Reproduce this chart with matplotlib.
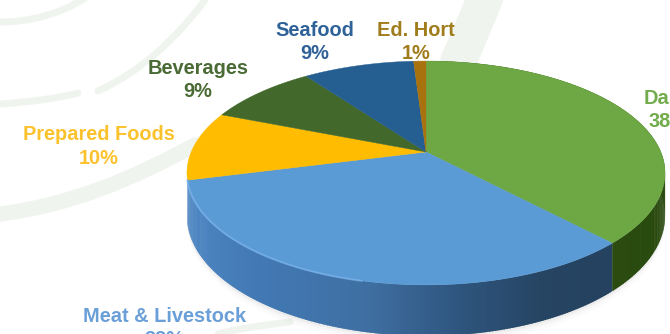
import numpy as np
import matplotlib
matplotlib.use('Agg')  # Non-interactive backend
import matplotlib.pyplot as plt
from matplotlib.collections import PolyCollection
from matplotlib.colors import to_rgb
from matplotlib.patches import PathPatch, Polygon
from matplotlib.path import Path

W, H = 670, 334

categories = ["Dairy", "Meat & Livestock", "Prepared Foods", "Beverages", "Seafood", "Ed. Hort"]
shares = [38, 33, 10, 9, 9, 1]

TOP_COLORS = ["#6EA845", "#5B9BD5", "#FFBC00", "#43682B", "#255E91", "#A8720E"]
TEXT_COLORS = ["#72AC4D", "#6A9FD8", "#FBC22E", "#4A6B35", "#2F6299", "#A07C1C"]
LABEL_POS = [(669, 98), (165, 316), (99, 135), (198, 68), (315, 30), (416, 30)]

# wall shading: (sin of angle, colour) stops, only the two front slices show a wall
WALL_STOPS = {
    0: [(-1, "#2E5212"), (1, "#2A4A10")],
    1: [(-1, "#4F89C6"), (-0.6, "#4279B4"), (-0.2, "#3F6FA2"), (0.1, "#2F5680"),
        (0.4, "#264563"), (1, "#233F5C")],
}

# pie plane to pixels, with perspective
CX, CY = 426, 152
AX, BY, PERSP = 234.8, 108.0, 0.1875
DEPTH = 41.5


def project(theta, radius=1.0, drop=0.0):
    """theta is clockwise from 12 o'clock, radians."""
    u = radius * np.sin(theta)
    v = -radius * np.cos(theta)
    w = 1 - PERSP * v
    return CX + AX * u / w, CY + (BY * v + drop) / w


def wall_color(idx, theta):
    stops = WALL_STOPS[idx]
    xs = [s[0] for s in stops]
    rgb = np.array([to_rgb(s[1]) for s in stops])
    s = np.sin(theta)
    return tuple(np.interp(s, xs, rgb[:, i]) for i in range(3))


fig = plt.figure(figsize=(W / 100, H / 100), dpi=100)
ax = fig.add_axes([0, 0, 1, 1])
ax.set_xlim(0, W)
ax.set_ylim(H, 0)
ax.axis("off")

# faint leaf swooshes behind the chart
swooshes = [
    ([(0, 22), (30, 22), (60, 14), (85, -2)], 5),
    ([(0, 104), (30, 102), (60, 98), (78, 93)], 5),
    ([(98, 91), (140, 72), (175, 40), (205, 0)], 5),
    ([(0, 214), (70, 205), (130, 180), (195, 145)], 11),
    ([(486, -4), (476, 20), (468, 40), (458, 62)], 26),
    ([(218, 334), (240, 328), (265, 325), (290, 322)], 5),
]
for pts, lw in swooshes:
    path = Path(pts, [Path.MOVETO, Path.CURVE4, Path.CURVE4, Path.CURVE4])
    ax.add_patch(PathPatch(path, fc="none", ec="#F0F4EE", lw=lw, capstyle="round", zorder=1))

# slice boundaries from the shares, clockwise from the top
edges = np.cumsum([0] + shares) / sum(shares) * 2 * np.pi

# soft shadow hugging the wall
full = np.linspace(0, 2 * np.pi, 240)
for grow, alpha in [(7, 0.02), (4, 0.03), (2, 0.05)]:
    sx, sy = project(full, drop=DEPTH + grow)
    ax.add_patch(Polygon(np.column_stack([sx, sy]), closed=True, fc="#555555", ec="none",
                         alpha=alpha, zorder=2))

# side wall, thin overlapping quads so the shading runs along the arc without seams
quads, quad_colors = [], []
for i in WALL_STOPS:
    angles = np.linspace(edges[i], edges[i + 1], shares[i] * 6)
    step = angles[1] - angles[0]
    for k, a0 in enumerate(angles[:-1]):
        a1 = a0 + step * (1.6 if k < len(angles) - 2 else 1.0)
        x0, y0 = project(a0)
        x1, y1 = project(a1)
        x2, y2 = project(a1, drop=DEPTH)
        x3, y3 = project(a0, drop=DEPTH)
        quads.append([(x0, y0), (x1, y1), (x2, y2), (x3, y3)])
        quad_colors.append(wall_color(i, a0 + step / 2))
ax.add_collection(PolyCollection(quads, facecolors=quad_colors, edgecolors="none", zorder=3))

# top face
for i in range(len(shares)):
    angles = np.linspace(edges[i], edges[i + 1], max(6, shares[i] * 6))
    px, py = project(angles)
    pts = np.vstack([[CX, CY], np.column_stack([px, py])])
    ax.add_patch(Polygon(pts, closed=True, fc=TOP_COLORS[i], ec=TOP_COLORS[i], lw=0.3, zorder=4))

# light bevel along the front of the meat slice
rim = np.linspace(edges[1] + 0.98, edges[2], 80)
rx, ry = project(rim)
ax.plot(rx, ry, color="#79B1EA", lw=1.4, alpha=0.75, zorder=5)

for name, share, color, (lx, ly) in zip(categories, shares, TEXT_COLORS, LABEL_POS):
    for text, y in ((name, ly), (f"{share}%", ly + 23.5)):
        ax.text(lx, y, text, color=color, fontsize=14.4, fontweight="bold",
                family="Liberation Sans", ha="center", va="center", zorder=6)

fig.savefig("out.png", dpi=100, facecolor="white")
